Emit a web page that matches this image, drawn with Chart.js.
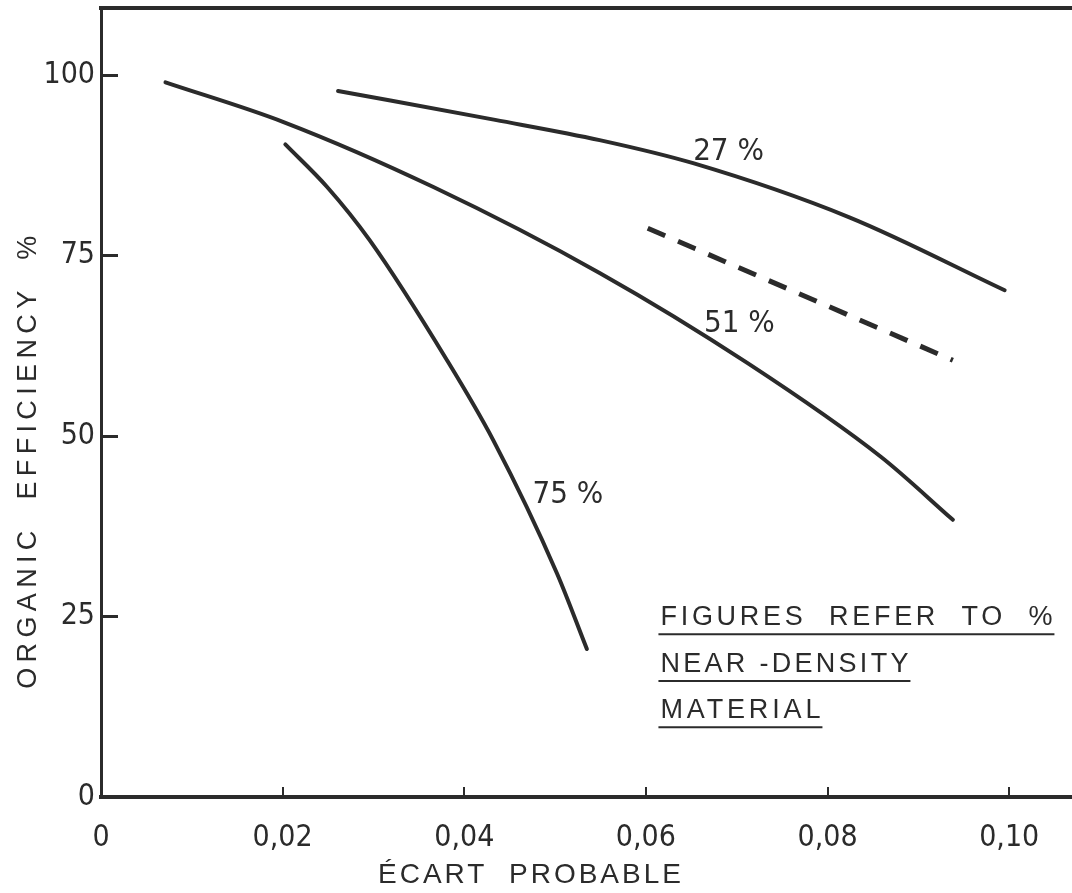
<!DOCTYPE html>
<html>
<head>
<meta charset="utf-8">
<script src="https://cdn.jsdelivr.net/npm/chart.js@4.4.0/dist/chart.umd.min.js"></script>
<style>
  html, body { margin: 0; padding: 0; background: #fff; overflow: hidden; }
</style>
</head>
<body>
<canvas id="efficiency" width="1100" height="893"></canvas>
<script>
// axis ticks
const xTicks = [0, 0.02, 0.04, 0.06, 0.08, 0.10];
const xTickLabels = ['0', '0,02', '0,04', '0,06', '0,08', '0,10'];
const yTicks = [0, 25, 50, 75, 100];
const yTickLabels = ['0', '25', '50', '75', '100'];

// curves (écart probable, organic efficiency %)
const x27 = [0.0261, 0.0434, 0.0549, 0.0652, 0.0824, 0.0995];
const y27 = [97.8, 93.8, 91.0, 87.8, 80.3, 70.2];

const x51 = [0.0071, 0.0201, 0.0366, 0.0549, 0.0712, 0.0859, 0.0938];
const y51 = [99.0, 93.5, 84.5, 72.6, 60.1, 47.1, 38.4];

const x75 = [0.0203, 0.0249, 0.0296, 0.0381, 0.0432, 0.0502, 0.0535];
const y75 = [90.4, 84.5, 77.1, 60.5, 49.4, 31.0, 20.5];

const xDash = [0.0602, 0.0938];
const yDash = [78.8, 60.5];

// curve names and where they sit
const curveNames = ['27 %', '51 %', '75 %'];
const nameX = [0.0652, 0.0664, 0.0475];
const nameY = [88.2, 64.4, 40.7];

const noteLines = ['FIGURES  REFER  TO  %', 'NEAR -DENSITY', 'MATERIAL'];
const noteX = 0.0616;
const noteY = [23.8, 17.3, 10.9];

const yTitle = 'ORGANIC  EFFICIENCY  %';
const xTitle = 'ÉCART  PROBABLE';

const INK = '#2b2b2b';
const NARROW = '"Liberation Sans Narrow", "DejaVu Sans Condensed", "Liberation Sans", sans-serif';
const SANS = '"Liberation Sans", Arial, sans-serif';

function pts(xs, ys) {
  return xs.map((x, i) => ({x: x, y: ys[i]}));
}

// draw text stretched with letter spacing to a given width
function spaced(ctx, text, x, y, width) {
  ctx.letterSpacing = '0px';
  const w = ctx.measureText(text).width;
  const gap = (width - w) / (text.length - 1);
  ctx.letterSpacing = gap + 'px';
  ctx.fillText(text, x, y);
  ctx.letterSpacing = '0px';
}

const annotate = {
  id: 'annotate',
  afterDraw(chart) {
    const ctx = chart.ctx;
    const x = chart.scales.x, y = chart.scales.y;
    ctx.save();
    ctx.fillStyle = INK;
    ctx.strokeStyle = INK;
    ctx.textBaseline = 'alphabetic';
    ctx.textAlign = 'left';

    ctx.font = '31px ' + NARROW;
    curveNames.forEach((t, i) => {
      ctx.fillText(t, x.getPixelForValue(nameX[i]), y.getPixelForValue(nameY[i]));
    });

    ctx.font = '27px ' + SANS;
    const noteW = [392, 248, 160];
    ctx.lineWidth = 2;
    noteLines.forEach((t, i) => {
      const px = x.getPixelForValue(noteX);
      const py = y.getPixelForValue(noteY[i]);
      spaced(ctx, t, px, py, noteW[i]);
      ctx.beginPath();
      ctx.moveTo(px - 2, py + 9);
      ctx.lineTo(px + noteW[i] + 2, py + 9);
      ctx.stroke();
    });

    // x title
    ctx.font = '28px ' + SANS;
    spaced(ctx, xTitle, x.getPixelForValue(0.0305), y.getPixelForValue(0) + 86, 303);

    // y title, rotated
    ctx.font = '27px ' + SANS;
    ctx.translate(36, y.getPixelForValue(46.3));
    ctx.rotate(-Math.PI / 2);
    spaced(ctx, yTitle, -226, 0, 453);
    ctx.restore();
  }
};

const tickFont = {family: NARROW, size: 30};

new Chart(document.getElementById('efficiency').getContext('2d'), {
  type: 'line',
  data: {
    datasets: [
      {label: '27 %', data: pts(x27, y27), borderColor: INK, borderWidth: 4},
      {label: '51 %', data: pts(x51, y51), borderColor: INK, borderWidth: 4},
      {label: '75 %', data: pts(x75, y75), borderColor: INK, borderWidth: 4},
      {label: 'dashed', data: pts(xDash, yDash), borderColor: INK, borderWidth: 5,
       borderDash: [19, 14], borderCapStyle: 'butt'}
    ]
  },
  options: {
    responsive: false,
    animation: false,
    events: [],
    layout: {padding: 0},
    plugins: {
      legend: {display: false},
      tooltip: {enabled: false}
    },
    elements: {
      point: {radius: 0},
      line: {cubicInterpolationMode: 'monotone', borderCapStyle: 'round', borderJoinStyle: 'round'}
    },
    scales: {
      x: {
        type: 'linear', position: 'bottom', min: 0, max: 0.11,
        afterFit: s => { s.height = 96; s.paddingLeft = 0; s.paddingRight = 0; },
        afterBuildTicks: s => { s.ticks = xTicks.map(v => ({value: v})); },
        grid: {drawOnChartArea: false, tickLength: -10, lineWidth: 2, color: INK},
        border: {color: INK, width: 4},
        ticks: {padding: 33, color: INK, font: tickFont, maxRotation: 0, autoSkip: false,
                callback: (v, i) => xTickLabels[i]}
      },
      top: {
        type: 'linear', position: 'top', min: 0, max: 0.11,
        afterFit: s => { s.height = 8; s.paddingLeft = 0; s.paddingRight = 0; },
        ticks: {display: false},
        grid: {display: false, drawTicks: false},
        border: {color: INK, width: 4}
      },
      y: {
        min: 0, max: 109.3,
        afterFit: s => { s.width = 101; s.paddingTop = 0; s.paddingBottom = 0; },
        afterBuildTicks: s => { s.ticks = yTicks.map(v => ({value: v})); },
        grid: {drawOnChartArea: false, tickLength: -17, lineWidth: 3, color: INK},
        border: {color: INK, width: 3},
        ticks: {padding: 23, color: INK, font: tickFont, autoSkip: false,
                callback: (v, i) => yTickLabels[i]}
      }
    }
  },
  plugins: [annotate]
});
</script>
</body>
</html>
